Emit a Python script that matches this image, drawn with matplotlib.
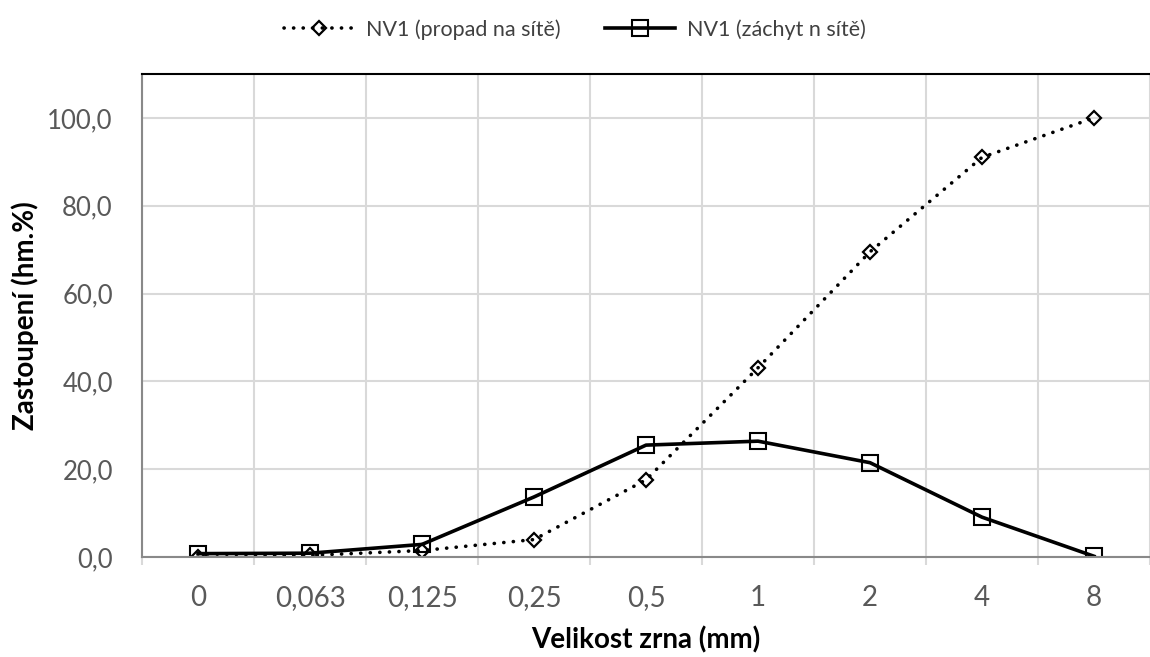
import matplotlib.pyplot as plt
import numpy as np

sizes = ['0', '0,063', '0,125', '0,25', '0,5', '1', '2', '4', '8']
propad = [0.0, 0.4, 1.5, 4.0, 17.6, 43.1, 69.5, 91.0, 100.0]
zachyt = [0.8, 0.9, 2.9, 13.7, 25.5, 26.4, 21.5, 9.1, 0.2]

plt.rcParams['font.family'] = ['Lato', 'DejaVu Sans']

fig = plt.figure(figsize=(11.5, 6.57), dpi=100)
ax = fig.add_axes([0.1235, 0.152, 0.8765, 0.7355])

x = np.arange(len(sizes))
ax.plot(x, propad, linestyle=(0, (0.05, 2.6)), dash_capstyle='round', color='black',
        linewidth=2.6, marker='D', markersize=7.5, markerfacecolor='none',
        markeredgewidth=1.6, label='NV1 (propad na sítě)')
ax.plot(x, zachyt, linestyle='-', color='black', linewidth=2.6,
        marker='s', markersize=12, markerfacecolor='none',
        markeredgewidth=1.5, label='NV1 (záchyt n sítě)')

ax.set_xlim(-0.5, len(sizes) - 0.5)
ax.set_ylim(0, 110)
ax.set_xticks(x)
ax.set_xticklabels(sizes)
ax.set_xticks(np.arange(-0.5, len(sizes)), minor=True)
yt = np.arange(0, 101, 20)
ax.set_yticks(yt)
ax.set_yticklabels([('%.1f' % v).replace('.', ',') for v in yt])

ax.grid(True, which='minor', axis='x', color='#d9d9d9', linewidth=1.5)
ax.grid(True, which='major', axis='y', color='#d9d9d9', linewidth=1.5)
ax.set_axisbelow(True)

ax.tick_params(axis='x', which='major', length=0, labelsize=20, labelcolor='#595959', pad=20)
ax.tick_params(axis='x', which='minor', length=6, color='#d9d9d9', width=1.5)
ax.tick_params(axis='y', length=0, labelsize=18.5, labelcolor='#595959', pad=21)

ax.spines['right'].set_visible(False)
ax.spines['top'].set_color('black')
ax.spines['top'].set_linewidth(1.5)
ax.spines['left'].set_color('#898989')
ax.spines['left'].set_linewidth(1.5)
ax.spines['bottom'].set_color('#898989')
ax.spines['bottom'].set_linewidth(1.5)

ax.set_xlabel('Velikost zrna (mm)', fontsize=20, fontweight='bold', labelpad=11)
ax.set_ylabel('Zastoupení (hm.%)', fontsize=20, fontweight='bold', labelpad=6)

fig.legend(loc='upper center', bbox_to_anchor=(0.5, 1.0), ncol=2, frameon=False,
           fontsize=15.5, labelcolor='#404040', handlelength=3.25, handletextpad=0.55,
           columnspacing=2.1)

fig.savefig('out.png', dpi=100)
